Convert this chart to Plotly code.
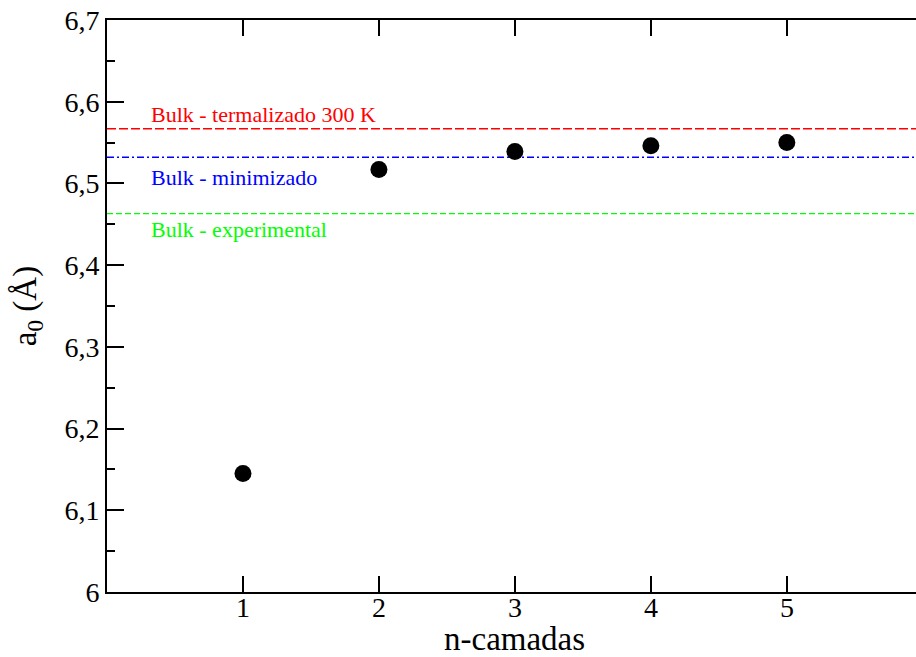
import plotly.graph_objects as go

# Lattice parameter vs number of layers
camadas = [1, 2, 3, 4, 5]
a0 = [6.145, 6.517, 6.539, 6.546, 6.550]

# Bulk reference values
bulk_nomes = ["Bulk - termalizado 300 K", "Bulk - minimizado", "Bulk - experimental"]
bulk_valores = [6.567, 6.532, 6.463]
bulk_cores = ["#ff0000", "#0000ff", "#00ff00"]
bulk_tracos = ["9px,3px", "7px,3px,2px,3px", "6px,3px"]
bulk_rotulo_y = [6.584, 6.507, 6.444]

y_ticks = [6.0, 6.1, 6.2, 6.3, 6.4, 6.5, 6.6, 6.7]
y_labels = ["6", "6,1", "6,2", "6,3", "6,4", "6,5", "6,6", "6,7"]
x_ticks = [1, 2, 3, 4, 5]
x_labels = ["1", "2", "3", "4", "5"]
x_title = "n-camadas"
x_title_pos = 3.0

x_range = [0, 5.95]
y_range = [6.0, 6.7]

serif = "'Liberation Serif', 'Times New Roman', Times, serif"

fig = go.Figure()

for nome, v, cor, traco in zip(bulk_nomes, bulk_valores, bulk_cores, bulk_tracos):
    fig.add_trace(go.Scatter(
        x=[x_range[0], x_range[1]], y=[v, v], mode="lines",
        line=dict(color=cor, width=1.4, dash=traco),
        name=nome, hoverinfo="skip",
    ))

fig.add_trace(go.Scatter(
    x=camadas, y=a0, mode="markers",
    marker=dict(color="black", size=17, symbol="circle"),
    name="a0", cliponaxis=False,
))

for nome, yl, cor in zip(bulk_nomes, bulk_rotulo_y, bulk_cores):
    fig.add_annotation(
        x=0.31, y=yl, xref="x", yref="y", text=nome, showarrow=False,
        xanchor="left", yanchor="middle",
        font=dict(family=serif, size=22, color=cor),
    )

# x tick labels placed just under the bottom axis
for xv, lab in zip(x_ticks, x_labels):
    fig.add_annotation(
        x=xv, y=0, xref="x", yref="paper", text=lab, showarrow=False,
        xanchor="center", yanchor="top", yshift=2,
        font=dict(family=serif, size=28, color="black"),
    )

fig.add_annotation(
    x=x_title_pos, y=0, xref="x", yref="paper", text=x_title, showarrow=False,
    xanchor="center", yanchor="middle", yshift=-47,
    font=dict(family=serif, size=33, color="black"),
)

fig.update_layout(
    width=916, height=657,
    margin=dict(l=107, r=0, t=20, b=65, autoexpand=False),
    paper_bgcolor="white", plot_bgcolor="white",
    showlegend=False,
    font=dict(family=serif, color="black"),
    xaxis=dict(
        range=x_range, tickvals=x_ticks, showticklabels=False,
        ticks="inside", ticklen=16, tickwidth=1.5, tickcolor="black",
        showline=True, linewidth=2, linecolor="black", mirror="ticks",
        showgrid=False, zeroline=False,
    ),
    yaxis=dict(
        range=y_range, tickvals=y_ticks, ticktext=y_labels,
        ticks="inside", ticklen=17, tickwidth=1.5, tickcolor="black",
        minor=dict(dtick=0.05, ticks="inside", ticklen=8, tickwidth=1.5, tickcolor="black"),
        showline=True, linewidth=2, linecolor="black", mirror=False,
        showgrid=False, zeroline=False, automargin=False,
        tickfont=dict(family=serif, size=28),
        title=dict(text="a<sub>0</sub> (Å)", font=dict(family=serif, size=33), standoff=18),
    ),
    yaxis2=dict(
        range=y_range, tickvals=y_ticks, overlaying="y", side="right",
        ticks="inside", ticklen=9, tickwidth=1.5, tickcolor="black",
        minor=dict(dtick=0.05, ticks="inside", ticklen=2, tickwidth=1.5, tickcolor="black"),
        showticklabels=False, showline=False, showgrid=False, zeroline=False,
    ),
)

fig.write_html("out.html")
